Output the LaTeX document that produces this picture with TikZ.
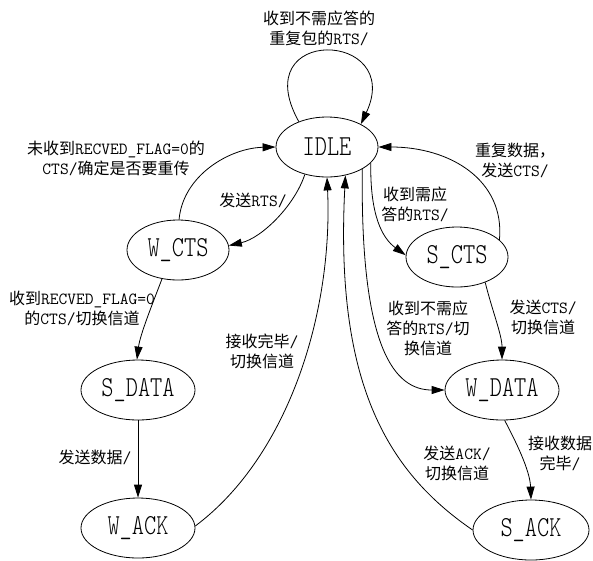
\documentclass[tikz,border=0pt]{standalone}
\usepackage{fontspec}
\usetikzlibrary{shapes.geometric,arrows.meta}
\newfontfamily\cjk{Noto Sans CJK SC}
\newcommand\latn[1]{{\fontsize{17}{20}\selectfont\ttfamily #1}}
\newcommand\stname[1]{\scalebox{0.8}[1]{\fontsize{29}{30}\selectfont\fontseries{l}\ttfamily #1}}
\tikzset{
  state/.style={draw, ellipse, line width=0.8pt, inner sep=0pt, minimum height=60pt, minimum width=#1},
  lab/.style={align=center, inner sep=0pt, font=\fontsize{16}{20}\selectfont\cjk},
  conn/.style={draw, line width=0.8pt, -{Triangle[length=13pt,width=8pt]}},
}
\begin{document}
\begin{tikzpicture}[x=1pt,y=-1pt]
\useasboundingbox (0,0) rectangle (593,560);
% states
\node[state=102pt] (idle)   at (327,147) {\stname{IDLE}};
\node[state=102pt] (w_cts)  at (178,250) {\stname{W\_CTS}};
\node[state=102pt] (s_cts)  at (457,257) {\stname{S\_CTS}};
\node[state=114pt] (s_data) at (138,390) {\stname{S\_DATA}};
\node[state=114pt] (w_data) at (502,390) {\stname{W\_DATA}};
\node[state=114pt] (w_ack)  at (138,528) {\stname{W\_ACK}};
\node[state=116pt] (s_ack)  at (531,530) {\stname{S\_ACK}};
% connectors
\draw[conn] (idle.138) .. controls (245,25) and (405,30) .. (idle.34);
\draw[conn] (w_cts.88) .. controls (183,175) and (230,148) .. (idle.180);
\draw[conn] (idle.231) .. controls (295,205) and (262,238) .. (w_cts.5);
\draw[conn] (w_cts.241) .. controls (152,305) and (140,335) .. (s_data.92);
\draw[conn] (s_data) -- (w_ack);
\draw[conn] (w_ack.2) .. controls (290,455) and (333,310) .. (idle.270);
\draw[conn] (s_ack.180) .. controls (385,470) and (335,380) .. (idle.303);
\draw[conn] (idle.340) .. controls (370,215) and (382,238) .. (s_cts.178);
\draw[conn] (s_cts.22) .. controls (505,180) and (450,147) .. (idle.0);
\draw[conn] (idle.328) .. controls (360,350) and (395,390) .. (w_data.180);
\draw[conn] (s_cts.318) .. controls (492,310) and (502,335) .. (w_data.90);
\draw[conn] (w_data.275) .. controls (515,440) and (530,470) .. (s_ack.90);
% labels
\node[lab] (l1) at (319,28) {收到不需应答的\\重复包的\latn{RTS/}};
\node[lab] (l2) at (116,158) {未收到\latn{RECVED\_FLAG=0}的\\\latn{CTS/}确定是否要重传};
\node[lab] (l3) at (253,200) {发送\latn{RTS/}};
\node[lab] (l4) at (82,308) {收到\latn{RECVED\_FLAG=0}\\的\latn{CTS/}切换信道};
\node[lab] (l5) at (262,351) {接收完毕\latn{/}\\切换信道};
\node[lab] (l6) at (95,457) {发送数据\latn{/}};
\node[lab] (l7) at (415,204) {收到需应\\答的\latn{RTS/}};
\node[lab] (l8) at (515,160) {重复数据，\\发送\latn{CTS/}};
\node[lab] (l9) at (428,328) {收到不需应\\答的\latn{RTS/}切\\换信道};
\node[lab] (l10) at (543,317) {发送\latn{CTS/}\\切换信道};
\node[lab] (l11) at (457,463) {发送\latn{ACK/}\\切换信道};
\node[lab] (l12) at (560,453) {接收数据\\完毕\latn{/}};
\end{tikzpicture}
\end{document}
